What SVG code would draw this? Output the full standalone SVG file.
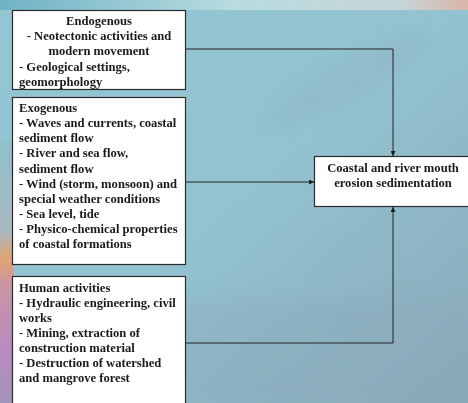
<svg xmlns="http://www.w3.org/2000/svg" width="468" height="403" viewBox="0 0 468 403">
<defs>
<linearGradient id="bg" x1="0" y1="0" x2="1" y2="1">
<stop offset="0" stop-color="#93c6d2"/>
<stop offset="0.5" stop-color="#93c2d0"/>
<stop offset="1" stop-color="#8aa9b8"/>
</linearGradient>
<linearGradient id="leftband" x1="0" y1="0" x2="0" y2="1">
<stop offset="0" stop-color="#8fc0cc"/>
<stop offset="0.35" stop-color="#a9b8c0"/>
<stop offset="0.45" stop-color="#e2a473"/>
<stop offset="0.55" stop-color="#c995a4"/>
<stop offset="0.8" stop-color="#b88ac0"/>
<stop offset="1" stop-color="#a294b8"/>
</linearGradient>
<linearGradient id="top" x1="0" y1="0" x2="1" y2="0">
<stop offset="0" stop-color="#6fb2c4"/>
<stop offset="0.5" stop-color="#b8dce0"/>
<stop offset="0.85" stop-color="#c6d6da"/>
<stop offset="1" stop-color="#d9b6a8"/>
</linearGradient>
<marker id="arr" viewBox="0 0 10 10" refX="10" refY="5" markerWidth="5" markerHeight="5" orient="auto" markerUnits="userSpaceOnUse">
<path d="M0,0 L10,5 L0,10 Z" fill="#1a1a1a"/>
</marker>
<filter id="blur" x="-50%" y="-50%" width="200%" height="200%"><feGaussianBlur stdDeviation="8"/></filter>
</defs>
<style>
.box{fill:#ffffff;stroke:#2b2b2b;stroke-width:1.2}
.t{font-family:"Liberation Serif","Times New Roman",serif;font-weight:bold;font-size:12.6px;fill:#1a1a1a}
.c{text-anchor:middle}
.ln{fill:none;stroke:#222;stroke-width:1}
</style>
<rect width="468" height="403" fill="url(#bg)"/>
<rect x="0" y="0" width="468" height="10" fill="url(#top)"/>
<rect x="0" y="140" width="14" height="263" fill="url(#leftband)"/>
<g opacity="0.25" filter="url(#blur)">
<ellipse cx="350" cy="80" rx="90" ry="18" fill="#8ea7b8" transform="rotate(-28 350 80)"/>
<rect x="180" y="300" width="290" height="103" fill="#8aa4b6"/>
</g>
<g id="connectors">
<path class="ln" d="M186,49 H393 V156" marker-end="url(#arr)"/>
<path class="ln" d="M186,182 H314" marker-end="url(#arr)"/>
<path class="ln" d="M186,343 H393 V207" marker-end="url(#arr)"/>
</g>
<g id="endogenous">
<rect class="box" x="12.5" y="10.5" width="173" height="79"/>
<text class="t c" x="99" y="25">Endogenous</text>
<text class="t c" x="99" y="40">- Neotectonic activities and</text>
<text class="t c" x="99" y="55">modern movement</text>
<text class="t" x="19" y="70.5">- Geological settings,</text>
<text class="t" x="19" y="85.5">geomorphology</text>
</g>
<g id="exogenous">
<rect class="box" x="12.5" y="97.5" width="173" height="167"/>
<text class="t" x="19" y="112">Exogenous</text>
<text class="t" x="19" y="127">- Waves and currents, coastal</text>
<text class="t" x="19" y="142">sediment flow</text>
<text class="t" x="19" y="157">- River and sea flow,</text>
<text class="t" x="19" y="172.5">sediment flow</text>
<text class="t" x="19" y="187.5">- Wind (storm, monsoon) and</text>
<text class="t" x="19" y="202.5">special weather conditions</text>
<text class="t" x="19" y="218">- Sea level, tide</text>
<text class="t" x="19" y="233">- Physico-chemical properties</text>
<text class="t" x="19" y="248">of coastal formations</text>
</g>
<g id="human">
<rect class="box" x="12.5" y="276.5" width="173" height="140"/>
<text class="t" x="19" y="291.5">Human activities</text>
<text class="t" x="19" y="306.5">- Hydraulic engineering, civil</text>
<text class="t" x="19" y="321.5">works</text>
<text class="t" x="19" y="336.5">- Mining, extraction of</text>
<text class="t" x="19" y="351.5">construction material</text>
<text class="t" x="19" y="366.5">- Destruction of watershed</text>
<text class="t" x="19" y="381.5">and mangrove forest</text>
</g>
<g id="result">
<rect class="box" x="314.5" y="156.5" width="170" height="50"/>
<text class="t c" x="393" y="172">Coastal and river mouth</text>
<text class="t c" x="393" y="187">erosion sedimentation</text>
</g>
</svg>
